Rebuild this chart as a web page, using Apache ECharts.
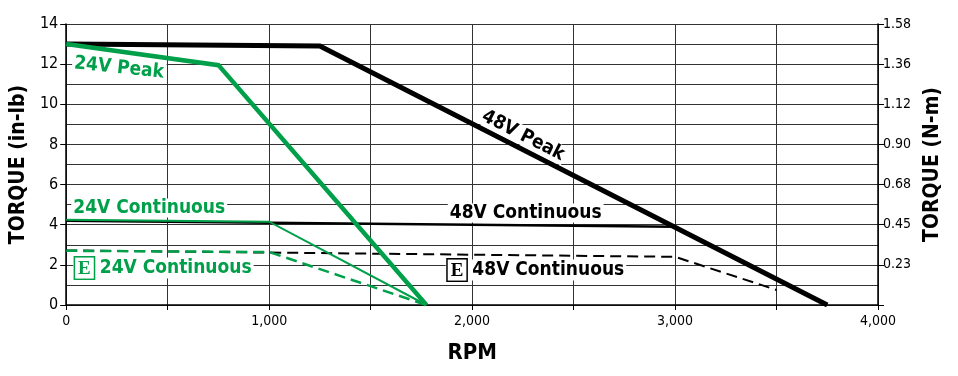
<!DOCTYPE html>
<html>
<head>
<meta charset="utf-8">
<script src="https://cdn.jsdelivr.net/npm/echarts@6/dist/echarts.min.js"></script>
<style>
  html, body { margin: 0; padding: 0; background: #fff; }
  #chart { width: 958px; height: 376px; }
</style>
</head>
<body>
<div id="chart"></div>
<script>
// curves: [rpm, torque in-lb]
const peak48 = [[0, 13], [1250, 12.9], [3750, 0]];
const peak24 = [[0, 13], [750, 11.95], [1775, 0]];
const cont48 = [[0, 4.2], [3000, 3.9]];
const cont24 = [[0, 4.25], [1000, 4.15], [1775, 0]];
const econt48 = [[0, 2.72], [3000, 2.4], [3500, 0.75]];
const econt24 = [[0, 2.7], [1000, 2.64], [1775, 0]];

// tick labels
const rpmTicks = ['0', '1,000', '2,000', '3,000', '4,000'];
const inlbTicks = ['0', '2', '4', '6', '8', '10', '12', '14'];
const nmTicks = ['', '0.23', '0.45', '0.68', '0.90', '1.12', '1.36', '1.58'];

const GREEN = '#00A04A';
const FONT = "'DejaVu Sans Condensed', 'Liberation Sans Narrow', 'Roboto', sans-serif";

const myChart = echarts.init(document.getElementById('chart'));

const gridLine = { show: true, lineStyle: { color: '#333', width: 1 } };

function line(data, color, width, dashed, z) {
  return {
    type: 'line',
    data,
    showSymbol: false,
    symbol: 'none',
    z,
    lineStyle: { color, width, type: dashed ? [11, 6] : 'solid', cap: 'butt', join: 'miter' },
    animation: false,
  };
}

const tickFont = { fontFamily: FONT, fontSize: 14, color: '#000' };

const option = {
  animation: false,
  backgroundColor: '#fff',
  grid: { left: 65, right: 80, top: 24, bottom: 71 },
  xAxis: {
    type: 'value',
    min: 0,
    max: 4000,
    interval: 1000,
    name: 'RPM',
    nameLocation: 'middle',
    nameGap: 37,
    nameTextStyle: { fontFamily: FONT, fontWeight: 'bold', fontSize: 22, color: '#000' },
    axisLine: { show: true, lineStyle: { color: '#000', width: 1.5 } },
    axisTick: { show: true, length: 5, lineStyle: { color: '#000' } },
    minorTick: { show: true, splitNumber: 2, length: 5, lineStyle: { color: '#000' } },
    splitLine: gridLine,
    minorSplitLine: gridLine,
    axisLabel: Object.assign({ margin: 9, formatter: v => rpmTicks[v / 1000] }, tickFont),
  },
  yAxis: [
    {
      type: 'value',
      min: 0,
      max: 14,
      interval: 2,
      name: 'TORQUE (in-lb)',
      nameLocation: 'middle',
      nameGap: 28,
      nameRotate: 90,
      nameTextStyle: { fontFamily: FONT, fontWeight: 'bold', fontSize: 21, color: '#000' },
      axisLine: { show: true, lineStyle: { color: '#000', width: 1.5 } },
      axisTick: { show: true, length: 6, lineStyle: { color: '#000' } },
      splitLine: gridLine,
      minorTick: { show: false, splitNumber: 2 },
      minorSplitLine: gridLine,
      axisLabel: Object.assign({ margin: 8, formatter: v => inlbTicks[v / 2] }, tickFont, { fontSize: 16 }),
    },
    {
      type: 'value',
      min: 0,
      max: 14,
      interval: 2,
      position: 'right',
      name: 'TORQUE (N-m)',
      nameLocation: 'middle',
      nameGap: 42,
      nameRotate: 90,
      nameTextStyle: { fontFamily: FONT, fontWeight: 'bold', fontSize: 21, color: '#000' },
      axisLine: { show: true, lineStyle: { color: '#000', width: 1.5 } },
      axisTick: { show: true, length: 6, lineStyle: { color: '#000' } },
      splitLine: { show: false },
      axisLabel: Object.assign({ margin: 5, formatter: v => nmTicks[v / 2] }, tickFont),
    },
  ],
  series: [
    line(econt48, '#000', 2, true, 2),
    line(econt24, GREEN, 2.5, true, 3),
    line(cont48, '#000', 2.5, false, 4),
    line(cont24, GREEN, 2, false, 5),
    line(peak48, '#000', 5, false, 6),
    line(peak24, GREEN, 4.5, false, 7),
  ],
};

myChart.setOption(option);

// annotation texts anchored in data coordinates
const notes = [
  { text: '24V Peak', at: [30, 12.05], color: GREEN, rot: -6 },
  { text: '48V Peak', at: [2045, 9.5], color: '#000', rot: -27 },
  { text: '24V Continuous', at: [25, 4.83], color: GREEN, rot: 0 },
  { text: '48V Continuous', at: [1880, 4.58], color: '#000', rot: 0 },
  { text: '{box|E} 24V Continuous', at: [34, 1.84], color: GREEN, rot: 0 },
  { text: '{box|E} 48V Continuous', at: [1870, 1.74], color: '#000', rot: 0 },
];

const graphic = notes.map(n => {
  const p = myChart.convertToPixel({ gridIndex: 0 }, n.at);
  return {
    type: 'text',
    x: p[0],
    y: p[1],
    rotation: (n.rot * Math.PI) / 180,
    z: 100,
    style: {
      text: n.text,
      fill: n.color,
      font: `bold 19px ${FONT}`,
      align: 'left',
      verticalAlign: 'middle',
      backgroundColor: '#fff',
      padding: [0, 2],
      rich: {
        box: {
          fill: n.color,
          font: `bold 19px 'Liberation Serif', serif`,
          borderColor: n.color,
          borderWidth: 1.5,
          padding: [2, 3, 0, 3],
          backgroundColor: '#fff',
        },
      },
    },
  };
});

myChart.setOption({ graphic });
</script>
</body>
</html>
